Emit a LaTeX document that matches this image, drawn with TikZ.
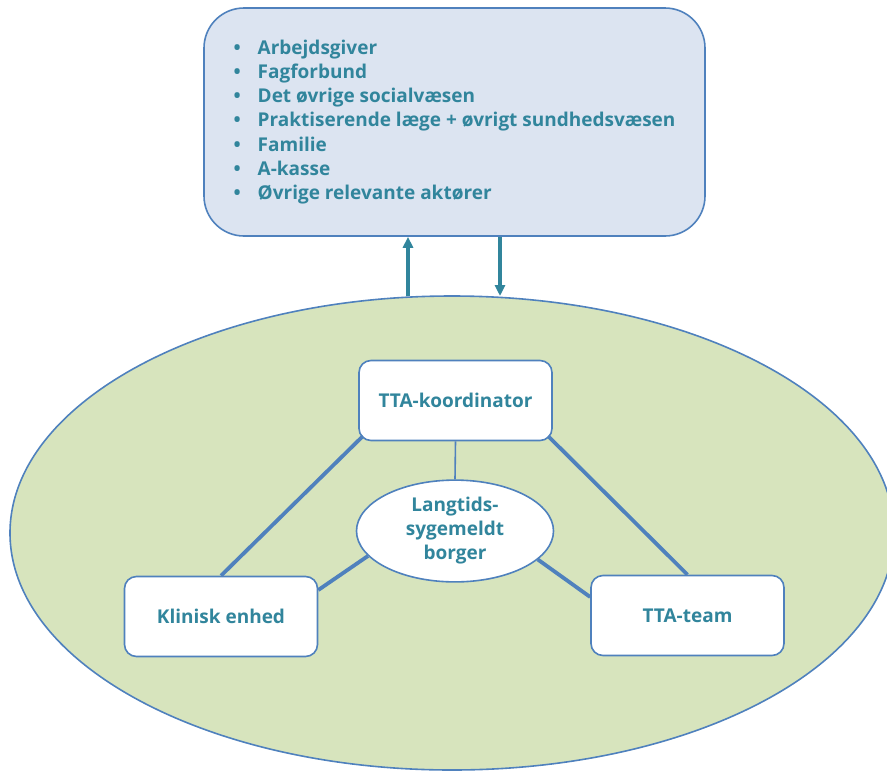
\documentclass[tikz,border=0pt]{standalone}
\usepackage{fontspec}
\setmainfont{Open Sans}
\usetikzlibrary{arrows.meta,shapes.geometric}
\definecolor{boxblue}{HTML}{DCE4F1}
\definecolor{edgeblue}{HTML}{4F81BD}
\definecolor{teal}{HTML}{31859C}
\definecolor{sage}{HTML}{D7E4BD}
\tikzset{
  label text/.style={text=teal,font=\bfseries\fontsize{19}{23}\selectfont},
  rolebox/.style={draw=edgeblue,line width=1.6pt,fill=white,rounded corners=12pt,
    minimum width=193pt,minimum height=80pt,label text},
  thickline/.style={edgeblue,line width=3.8pt},
  thinline/.style={edgeblue,line width=1.6pt},
  flow/.style={teal,line width=3.2pt,-{Triangle[width=10pt,length=11pt]}}
}
\begin{document}
\begin{tikzpicture}[x=1pt,y=-1pt]
\useasboundingbox (0,0) rectangle (887,772);
\clip (0,0) rectangle (887,772);
% outer field
\node[ellipse,draw=edgeblue,line width=1.6pt,fill=sage,minimum width=884pt,minimum height=474pt] (field) at (452,533) {};
% partners box with list
\node[draw=edgeblue,line width=1.6pt,fill=boxblue,rounded corners=40pt,
  minimum width=501pt,minimum height=228pt,label text] (partners) at (454.5,122)
  {\fontsize{19}{24.2}\selectfont\raisebox{-2pt}{%
   \begin{tabular}{@{}l@{\hspace{17pt}}l@{}}
   \textbullet & Arbejdsgiver\\
   \textbullet & Fagforbund\\
   \textbullet & Det øvrige socialvæsen\\
   \textbullet & Praktiserende læge + øvrigt sundhedsvæsen\\
   \textbullet & Familie\\
   \textbullet & A-kasse\\
   \textbullet & Øvrige relevante aktører
   \end{tabular}}};
% exchange arrows
\coordinate (up0) at (408,296);
\coordinate (down1) at (500,296);
\draw[flow] (up0) -- (up0 |- partners.south);
\draw[flow] (down1 |- partners.south) -- (down1);
% role boxes
\node[rolebox] (koord) at (455.5,400.5) {TTA-koordinator};
\node[rolebox] (klinisk) at (221,616.5) {Klinisk enhed};
\node[rolebox] (team) at (687.5,615.5) {TTA-team};
% citizen
\node[ellipse,draw=edgeblue,line width=1.6pt,fill=white,minimum width=197pt,minimum height=98pt,
  label text,align=center,inner sep=0pt] (borger) at (455,531)
  {\fontsize{19}{24}\selectfont\raisebox{-2pt}{\begin{tabular}{@{}c@{}}Langtids-\\sygemeldt\\borger\end{tabular}}};
% connections
\coordinate (kl) at (363,436);
\coordinate (kr) at (548,436);
\draw[thickline] (kl) -- (klinisk.north);
\draw[thickline] (kr) -- (team.north);
\draw[thinline] (koord.south) -- (borger.north);
\draw[thickline] (borger.-164) -- (klinisk.north east |- 0,590);
\draw[thickline] (borger.-19) -- (team.north west |- 0,597);
\end{tikzpicture}
\end{document}
